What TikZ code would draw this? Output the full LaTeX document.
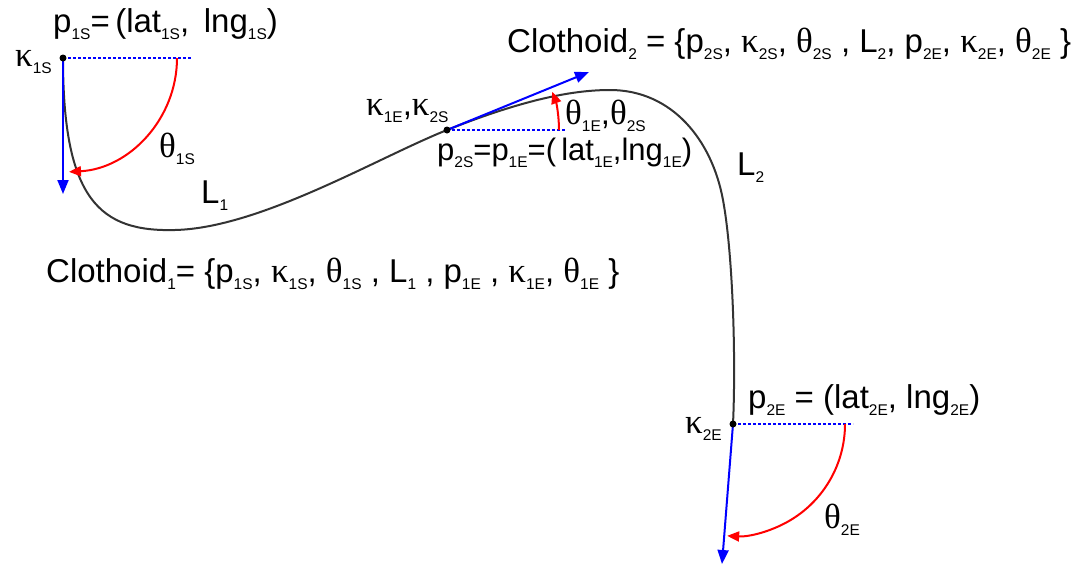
\documentclass[tikz,border=0pt]{standalone}
\usepackage{fontspec}
\setmainfont{Liberation Sans}
\newfontfamily\gr{Liberation Serif}
\usetikzlibrary{arrows.meta}
\newcommand\sbs[1]{\raisebox{-7pt}{\fontsize{15.5}{15.5}\selectfont #1}}
\newcommand\kp{{\gr\fontsize{35}{35}\selectfont κ}}
\newcommand\tht{{\gr\fontsize{35}{35}\selectfont θ}}
\begin{document}
\begin{tikzpicture}[x=1pt,y=-1pt,
  lbl/.style={anchor=base west, inner sep=0pt, font=\fontsize{33}{33}\selectfont},
  curve/.style={line width=2pt, black!80},
  tang/.style={blue, line width=2pt, -{Triangle[length=14pt,width=11pt]}},
  ang/.style={red, line width=2pt, -{Triangle[length=12pt,width=10pt]}},
  refl/.style={blue, line width=1.5pt, dash pattern=on 3pt off 2pt},
  pt/.style={circle, fill=black, inner sep=0pt, minimum size=7pt}]
\useasboundingbox (0,0) rectangle (1082,566);
% points
\coordinate (p1s) at (63,58);
\coordinate (p2s) at (447,130);
\coordinate (p2e) at (733,424);
\coordinate (r1s) at (192,58);
\coordinate (r2s) at (565,130);
\coordinate (r2e) at (853,424);
\coordinate (v1s) at (63,194);
\coordinate (v2s) at (589,72);
\coordinate (v2e) at (722,564);
\coordinate (a1s) at (177,58);
\coordinate (a2s) at (559,130);
\coordinate (a2e) at (845,424);
% reference lines
\draw[refl] (p1s) -- (r1s);
\draw[refl] (p2s) -- (r2s);
\draw[refl] (p2e) -- (r2e);
% curve
\draw[curve] (p1s) .. controls (63,200) and (100,232) .. (175,230)
  .. controls (260,228) and (377,158) .. (p2s)
  .. controls (520,101) and (570,90) .. (610,90)
  .. controls (672,90) and (712,140) .. (723,200)
  .. controls (733,254) and (736,360) .. (p2e);
% tangents
\draw[tang] (p1s) -- (v1s);
\draw[tang] (p2s) -- (v2s);
\draw[tang] (p2e) -- (v2e);
% angles
\draw[ang] (a1s) arc[start angle=0, end angle=87, radius=114];
\draw[ang] (a2s) arc[start angle=0, end angle=-20, radius=112];
\draw[ang] (a2e) arc[start angle=0, end angle=93, radius=112];
% dots
\node[pt] (d1s) at (p1s) {};
\node[pt] (d2s) at (p2s) {};
\node[pt] (d2e) at (p2e) {};
% labels
\node[lbl] (tp1s) at (53,32) {p\sbs{1S}=\,(lat\sbs{1S}, \,lng\sbs{1S})};
\node[lbl] (k1s) at (15,66) {\kp\sbs{1S}};
\node[lbl] (t1s) at (159,157) {\tht\sbs{1S}};
\node[lbl] (l1) at (201,203) {L\sbs{1}};
\node[lbl] (k1e) at (366,115) {\kp\sbs{1E},\kp\sbs{2S}};
\node[lbl] (t1e) at (565,124) {\tht\sbs{1E},\tht\sbs{2S}};
\node[lbl, font=\fontsize{31}{31}\selectfont] (tp2s) at (437,160) {p\sbs{2S}=p\sbs{1E}=(\,lat\sbs{1E},lng\sbs{1E})};
\node[lbl] (c2) at (507,52) {Clothoid\sbs{2} = \{p\sbs{2S}, \kp\sbs{2S}, \tht\sbs{2S} , L\sbs{2}, p\sbs{2E}, \kp\sbs{2E}, \tht\sbs{2E} \}};
\node[lbl] (l2) at (737,175) {L\sbs{2}};
\node[lbl] (c1) at (46,282) {Clothoid\sbs{1}= \{p\sbs{1S}, \kp\sbs{1S}, \tht\sbs{1S} , L\sbs{1} , p\sbs{1E} , \kp\sbs{1E}, \tht\sbs{1E} \}};
\node[lbl] (tp2e) at (748,408) {p\sbs{2E} = (lat\sbs{2E}, lng\sbs{2E})};
\node[lbl] (k2e) at (685,433) {\kp\sbs{2E}};
\node[lbl] (t2e) at (824,528) {\tht\sbs{2E}};
\end{tikzpicture}
\end{document}
